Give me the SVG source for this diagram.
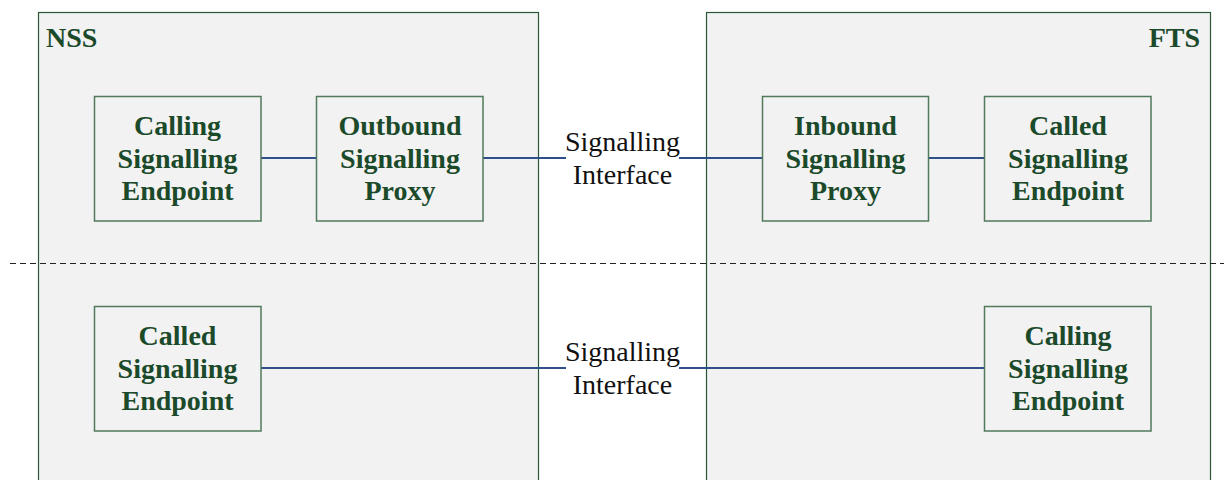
<svg xmlns="http://www.w3.org/2000/svg" width="1224" height="480" viewBox="0 0 1224 480">
<style>
.cont{fill:#f2f2f2;stroke:#2b5637;stroke-width:1.2}
.box{fill:#f2f2f2;stroke:#4f7a5b;stroke-width:1.5}
.bt{font-family:"Liberation Serif",serif;font-weight:bold;font-size:28px;fill:#1b4a2b;text-anchor:middle}
.lt{font-family:"Liberation Serif",serif;font-size:28px;fill:#111;text-anchor:middle}
.con{stroke:#2f4f8a;stroke-width:2;fill:none}
</style>
<rect width="1224" height="480" fill="#fff"/>
<g id="NSS"><rect class="cont" x="38.5" y="12.5" width="500" height="480"/>
<text class="bt" x="46" y="47" style="text-anchor:start">NSS</text></g>
<g id="FTS"><rect class="cont" x="706.5" y="12.5" width="504" height="480"/>
<text class="bt" x="1200" y="47" style="text-anchor:end">FTS</text></g>
<line x1="10" y1="263.5" x2="1224" y2="263.5" stroke="#222" stroke-width="1" stroke-dasharray="6,4"/>
<g id="connectors">
<line class="con" x1="261" y1="158" x2="316" y2="158"/>
<line class="con" x1="483" y1="158" x2="566" y2="158"/>
<line class="con" x1="679" y1="158" x2="762" y2="158"/>
<line class="con" x1="928" y1="158" x2="984" y2="158"/>
<line class="con" x1="261" y1="368" x2="566" y2="368"/>
<line class="con" x1="679" y1="368" x2="984" y2="368"/>
</g>
<g id="if1"><text class="lt" x="622.5" y="151">Signalling</text><text class="lt" x="622.5" y="184">Interface</text></g>
<g id="if2"><text class="lt" x="622.5" y="361">Signalling</text><text class="lt" x="622.5" y="394">Interface</text></g>
<g id="callingNSS"><rect class="box" x="94.5" y="96.5" width="166.5" height="124.5"/>
<text class="bt" x="177.5" y="135">Calling</text><text class="bt" x="177.5" y="168">Signalling</text><text class="bt" x="177.5" y="200">Endpoint</text></g>
<g id="outbound"><rect class="box" x="316.5" y="96.5" width="166.5" height="124.5"/>
<text class="bt" x="400" y="135">Outbound</text><text class="bt" x="400" y="168">Signalling</text><text class="bt" x="400" y="200">Proxy</text></g>
<g id="inbound"><rect class="box" x="762.5" y="96.5" width="166" height="124.5"/>
<text class="bt" x="845.5" y="135">Inbound</text><text class="bt" x="845.5" y="168">Signalling</text><text class="bt" x="845.5" y="200">Proxy</text></g>
<g id="calledFTS"><rect class="box" x="984.5" y="96.5" width="166.5" height="124.5"/>
<text class="bt" x="1068" y="135">Called</text><text class="bt" x="1068" y="168">Signalling</text><text class="bt" x="1068" y="200">Endpoint</text></g>
<g id="calledNSS"><rect class="box" x="94.5" y="306.5" width="166.5" height="124.5"/>
<text class="bt" x="177.5" y="345">Called</text><text class="bt" x="177.5" y="378">Signalling</text><text class="bt" x="177.5" y="410">Endpoint</text></g>
<g id="callingFTS"><rect class="box" x="984.5" y="306.5" width="166.5" height="124.5"/>
<text class="bt" x="1068" y="345">Calling</text><text class="bt" x="1068" y="378">Signalling</text><text class="bt" x="1068" y="410">Endpoint</text></g>
</svg>
